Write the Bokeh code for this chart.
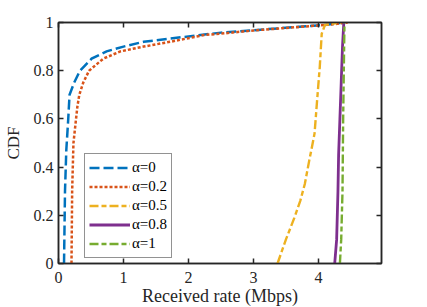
from bokeh.plotting import figure
from bokeh.models import Range1d, LinearAxis, FixedTicker, Legend, CustomLabelingPolicy
from bokeh.embed import file_html
from bokeh.resources import INLINE

# ---- data ----
x_a0 = [0.085, 0.10, 0.12, 0.15, 0.17, 0.24, 0.33, 0.51, 0.74, 1.00, 1.31, 1.93, 2.50, 3.00, 3.60, 4.10, 4.40]
y_a0 = [0.00, 0.30, 0.47, 0.60, 0.70, 0.75, 0.80, 0.85, 0.88, 0.90, 0.92, 0.94, 0.958, 0.968, 0.98, 0.99, 1.00]

x_a02 = [0.20, 0.21, 0.23, 0.25, 0.27, 0.29, 0.32, 0.38, 0.47, 0.69, 0.95, 1.31, 1.72, 2.24, 2.55, 3.00, 3.78, 4.20, 4.45]
y_a02 = [0.00, 0.30, 0.50, 0.55, 0.60, 0.65, 0.70, 0.75, 0.80, 0.85, 0.88, 0.90, 0.92, 0.948, 0.955, 0.967, 0.983, 0.992, 1.00]

x_a05 = [3.37, 3.50, 3.63, 3.72, 3.79, 3.86, 3.89, 3.94, 3.98, 4.02, 4.05, 4.10, 4.35]
y_a05 = [0.00, 0.10, 0.19, 0.26, 0.33, 0.43, 0.47, 0.54, 0.68, 0.815, 0.953, 0.99, 1.00]

x_a08 = [4.25, 4.28, 4.30, 4.31, 4.33, 4.35, 4.37, 4.39]
y_a08 = [0.00, 0.10, 0.30, 0.45, 0.60, 0.75, 0.90, 1.00]

x_a1 = [4.33, 4.35, 4.37, 4.38, 4.39, 4.40]
y_a1 = [0.00, 0.10, 0.30, 0.60, 0.80, 1.00]

series_labels = ["α=0", "α=0.2", "α=0.5", "α=0.8", "α=1"]
x_ticks = [0, 1, 2, 3, 4]
y_ticks = [0.0, 0.2, 0.4, 0.6, 0.8, 1.0]
y_tick_labels = ["0", "0.2", "0.4", "0.6", "0.8", "1"]

# ---- styles ----
colors = ["#0072BD", "#D95319", "#EDB120", "#7E2F8E", "#77AC30"]
dashes = ["10 4", "3 2", "9 3 5 3", "solid", "9 3 5 3"]
widths = [2.5, 2.5, 2.4, 2.8, 2.4]
AX = "#262626"
FONT = "Liberation Serif"

p = figure(frame_width=323, frame_height=241,
           min_border_left=55, min_border_top=22, min_border_right=42, min_border_bottom=42,
           x_range=Range1d(0, 4.97), y_range=Range1d(0, 1),
           output_backend="svg", toolbar_location=None)
p.xgrid.visible = False
p.ygrid.visible = False
p.outline_line_color = AX
p.outline_line_width = 1.5
p.background_fill_color = "white"
p.border_fill_color = "white"

xs = [x_a0, x_a02, x_a05, x_a08, x_a1]
ys = [y_a0, y_a02, y_a05, y_a08, y_a1]
items = []
for x, y, c, d, w, lab in zip(xs, ys, colors, dashes, widths, series_labels):
    r = p.line(x, y, line_color=c, line_dash=d, line_width=w, line_cap="butt", line_join="miter")
    items.append((lab, [r]))

legend = Legend(items=items, location=(26, 5))
legend.border_line_color = AX
legend.border_line_width = 1.5
legend.background_fill_alpha = 1.0
legend.label_text_font = FONT
legend.label_text_font_size = "15px"
legend.label_text_color = "black"
legend.glyph_width = 41
legend.glyph_height = 19
legend.label_height = 19
legend.spacing = 0
legend.padding = 4
legend.margin = 0
legend.label_standoff = 2
p.add_layout(legend, "center")

def style_axis(ax):
    ax.axis_line_color = AX
    ax.axis_line_width = 1.5
    ax.major_tick_line_color = AX
    ax.major_tick_line_width = 1.5
    ax.major_tick_in = 5
    ax.major_tick_out = 0
    ax.minor_tick_line_color = None
    ax.major_label_text_font = FONT
    ax.major_label_text_font_size = "16px"
    ax.major_label_text_color = AX
    ax.axis_label_text_font = FONT
    ax.axis_label_text_font_size = "17px"
    ax.axis_label_text_font_style = "normal"
    ax.axis_label_text_color = AX

p.xaxis.ticker = FixedTicker(ticks=x_ticks)
p.yaxis.ticker = FixedTicker(ticks=y_ticks)
p.yaxis.major_label_overrides = dict(zip(y_ticks, y_tick_labels))
p.xaxis.axis_label = "Received rate (Mbps)"
p.yaxis.axis_label = "CDF"
style_axis(p.xaxis[0])
style_axis(p.yaxis[0])
p.xaxis.axis_label_text_font_size = "18px"
p.xaxis.major_label_standoff = 8
p.yaxis.major_label_standoff = 5
p.xaxis.axis_label_standoff = 0
p.yaxis.axis_label_standoff = 8

hide_all = "for (const i of indices) { indices.unset(i) }\nreturn indices"
top = LinearAxis(ticker=FixedTicker(ticks=x_ticks))
right = LinearAxis(ticker=FixedTicker(ticks=y_ticks))
for ax in (top, right):
    style_axis(ax)
    ax.major_label_standoff = 0
    ax.major_label_policy = CustomLabelingPolicy(code=hide_all)
p.add_layout(top, "above")
p.add_layout(right, "right")

open("out.html", "w").write(file_html(p, INLINE))
